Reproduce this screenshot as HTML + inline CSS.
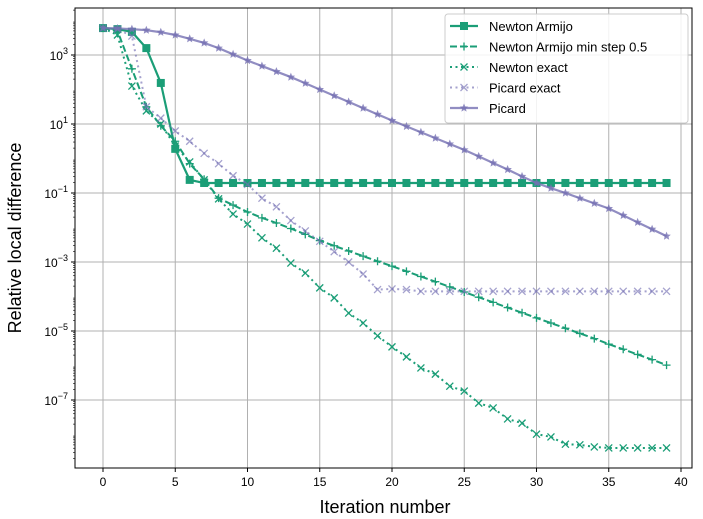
<!DOCTYPE html>
<html><head><meta charset="utf-8"><style>
body{margin:0;background:#fff;font-family:"Liberation Sans","DejaVu Sans",sans-serif}
svg{display:block}
</style></head><body>
<svg id="c" width="703" height="519" xmlns="http://www.w3.org/2000/svg"></svg>
<script>
const iterations = Array.from({length:40},(_, i)=>i);
const newtonArmijo = [3.78,3.75,3.67,3.2,2.19,0.28,-0.62,-0.71,-0.71,-0.71,-0.71,-0.71,-0.71,-0.71,-0.71,-0.71,-0.71,-0.71,-0.71,-0.71,-0.71,-0.71,-0.71,-0.71,-0.71,-0.71,-0.71,-0.71,-0.71,-0.71,-0.71,-0.71,-0.71,-0.71,-0.71,-0.71,-0.71,-0.71,-0.71,-0.71];
const newtonArmijoMin = [3.78,3.7,2.6,1.5,0.95,0.5,-0.15,-0.6,-1.15,-1.35,-1.55,-1.72,-1.87,-2.03,-2.2,-2.38,-2.53,-2.68,-2.83,-2.98,-3.12,-3.27,-3.42,-3.57,-3.72,-3.87,-4.02,-4.17,-4.32,-4.47,-4.62,-4.77,-4.92,-5.07,-5.22,-5.38,-5.53,-5.68,-5.83,-5.99];
const newtonExact = [3.78,3.58,2.1,1.38,1.0,0.36,-0.1,-0.62,-1.17,-1.61,-1.9,-2.3,-2.6,-3.03,-3.32,-3.75,-4.04,-4.48,-4.77,-5.14,-5.46,-5.75,-6.07,-6.25,-6.6,-6.74,-7.09,-7.23,-7.55,-7.67,-7.99,-8.07,-8.28,-8.3,-8.36,-8.39,-8.39,-8.39,-8.39,-8.39];
const picardExact = [3.78,3.75,3.55,1.5,1.17,0.8,0.5,0.15,-0.15,-0.5,-0.75,-1.15,-1.4,-1.8,-2.1,-2.4,-2.7,-3.0,-3.35,-3.8,-3.78,-3.8,-3.85,-3.85,-3.85,-3.85,-3.85,-3.85,-3.85,-3.85,-3.85,-3.85,-3.85,-3.85,-3.85,-3.85,-3.85,-3.85,-3.85,-3.85];
const picard = [3.78,3.77,3.75,3.72,3.66,3.58,3.47,3.35,3.2,3.02,2.84,2.68,2.52,2.36,2.18,2.0,1.82,1.64,1.46,1.28,1.1,0.93,0.76,0.59,0.42,0.25,0.06,-0.13,-0.32,-0.52,-0.71,-0.86,-1.0,-1.15,-1.3,-1.45,-1.65,-1.85,-2.05,-2.25];
const xTicks = [0,5,10,15,20,25,30,35,40];
const yTicks = [3,1,-1,-3,-5,-7];

const NS="http://www.w3.org/2000/svg";
const svg=document.getElementById('c');
const L=75,R=692,T=8,B=468;
const X=v=>103+(v-0)*(681-103)/40;
const Y=v=>55+(3-v)*34.5;
function el(t,a,p){const e=document.createElementNS(NS,t);for(const k in a)e.setAttribute(k,a[k]);(p||svg).appendChild(e);return e;}
const G='#1b9e77',P='#7570b3';
// grid
const grid=el('g',{});


xTicks.forEach(t=>{el('line',{x1:X(t),x2:X(t),y1:T,y2:B,stroke:'#b0b0b0','stroke-width':1},grid);
 el('line',{x1:X(t),x2:X(t),y1:B,y2:B+4,stroke:'#000'},grid);
 const tx=el('text',{x:X(t),y:B+18,'text-anchor':'middle','font-size':12},grid);tx.textContent=t;
 
 });
yTicks.forEach(t=>{el('line',{x1:L,x2:R,y1:Y(t),y2:Y(t),stroke:'#b0b0b0','stroke-width':1},grid);
 el('line',{x1:L-4,x2:L,y1:Y(t),y2:Y(t),stroke:'#000'},grid);
 const tx=el('text',{x:L-7,y:Y(t)+5,'text-anchor':'end','font-size':12},grid);
 tx.innerHTML='10<tspan dy="-6" font-size="9">'+(t<0?'\u2212'+(-t):t)+'</tspan>';
 
 });
// minor y ticks
for(let d=-9;d<5;d++){for(let m=2;m<10;m++){const v=d+Math.log10(m);const y=Y(v);if(y>T&&y<B)el('line',{x1:L-2,x2:L,y1:y,y2:y,stroke:'#000','stroke-width':0.6},grid);}}
for(let d=-9;d<5;d+=2){const y=Y(d);if(y>T&&y<B)el('line',{x1:L-2.5,x2:L,y1:y,y2:y,stroke:'#000','stroke-width':0.8},grid);}
function marker(g,type,x,y,c,op){
 if(type==='s')el('rect',{x:x-4,y:y-4,width:8,height:8,fill:c,'fill-opacity':op},g);
 else if(type==='+'){el('path',{d:`M${x-4} ${y}H${x+4}M${x} ${y-4}V${y+4}`,stroke:c,'stroke-width':1.3,'stroke-opacity':op},g);}
 else if(type==='x'){el('path',{d:`M${x-3.5} ${y-3.5}L${x+3.5} ${y+3.5}M${x-3.5} ${y+3.5}L${x+3.5} ${y-3.5}`,stroke:c,'stroke-width':1.3,'stroke-opacity':op},g);}
 else if(type==='*'){let d='';for(let i=0;i<10;i++){const r=i%2?2:4.5;const a=-Math.PI/2+i*Math.PI/5;d+=(i?'L':'M')+(x+r*Math.cos(a)).toFixed(1)+' '+(y+r*Math.sin(a)).toFixed(1);}el('path',{d:d+'Z',fill:c,'fill-opacity':op},g);}
}
const series=[
 {name:'newton-armijo',data:newtonArmijo,c:G,dash:'',m:'s',op:1,w:2.2},
 {name:'newton-armijo-min-step',data:newtonArmijoMin,c:G,dash:'7,3',m:'+',op:1,w:2},
 {name:'newton-exact',data:newtonExact,c:G,dash:'2,3.5',m:'x',op:1,w:2},
 {name:'picard-exact',data:picardExact,c:P,dash:'2,3.5',m:'x',op:0.65,w:2},
 {name:'picard',data:picard,c:P,dash:'',m:'*',op:0.8,w:2.2}];
const clip=el('clipPath',{id:'cp'});el('rect',{x:L,y:T,width:R-L,height:B-T},clip);
series.forEach(s=>{
 const g=el('g',{'clip-path':'url(#cp)'});
 
 
 el('path',{d:s.data.map((v,i)=>(i?'L':'M')+X(iterations[i])+' '+Y(v)).join(''),fill:'none',stroke:s.c,'stroke-width':s.w,'stroke-dasharray':s.dash,'stroke-opacity':s.op},g);
 s.data.forEach((v,i)=>marker(g,s.m,X(iterations[i]),Y(v),s.c,s.op));
});
el('rect',{x:L,y:T,width:R-L,height:B-T,fill:'none',stroke:'#000','stroke-width':1});
const xt=el('text',{x:385,y:513,'text-anchor':'middle','font-size':18});xt.textContent='Iteration number';

const yt=el('text',{x:0,y:0,'text-anchor':'middle','font-size':18,transform:'translate(21,238) rotate(-90)'});yt.textContent='Relative local difference';

// legend
const lg=el('g',{});


el('rect',{x:445,y:14,width:243,height:109,rx:3,fill:'#fff','fill-opacity':0.85,stroke:'#ccc'},lg);
const labels=['Newton Armijo','Newton Armijo min step 0.5','Newton exact','Picard exact','Picard'];
series.forEach((s,i)=>{const y=26+i*20.5;
 const e=el('g',{},lg);
 
 
 el('line',{x1:450,x2:478,y1:y,y2:y,stroke:s.c,'stroke-width':s.w,'stroke-dasharray':s.dash,'stroke-opacity':s.op},e);
 marker(e,s.m,464,y,s.c,s.op);
 const t=el('text',{x:489,y:y+5,'font-size':13},e);t.textContent=labels[i];});
</script>
</body></html>
